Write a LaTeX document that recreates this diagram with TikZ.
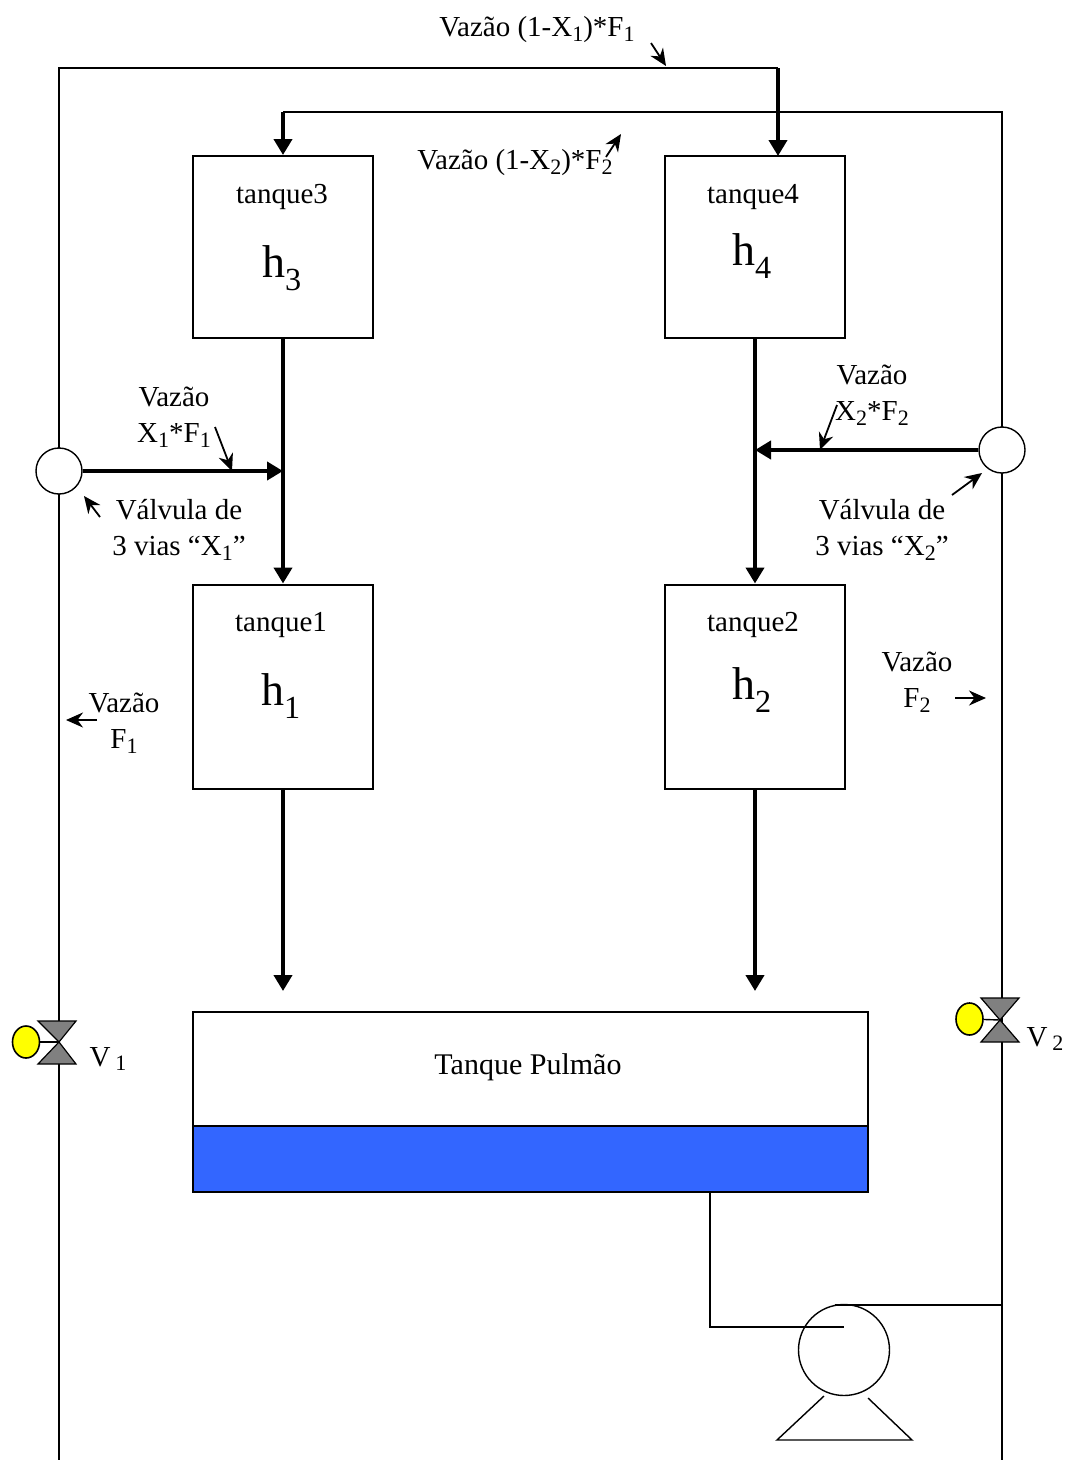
\documentclass[tikz,border=0pt]{standalone}
\usepackage{fontspec}
\setmainfont{Liberation Serif}
\usetikzlibrary{positioning}
\usetikzlibrary{calc}
\usetikzlibrary{arrows.meta}
\usetikzlibrary{shapes.geometric}
\definecolor{agua}{RGB}{51,102,255}
\definecolor{amarelo}{RGB}{255,255,0}
\definecolor{cinza}{RGB}{128,128,128}
\newcommand{\ind}[1]{\raisebox{-0.16em}{\fontsize{22}{22}\selectfont #1}}
\tikzset{
    texto/.style={inner sep=0pt, align=center, font=\fontsize{29}{36}\selectfont},
    altura/.style={inner sep=0pt, font=\fontsize{46}{50}\selectfont},
    tanque/.style={draw, line width=2pt, inner sep=0pt, minimum width=180, minimum height=#1},
    cano/.style={line width=2pt},
    canofino/.style={line width=1.4pt},
    grosso/.style={line width=4pt, -{Triangle[length=16pt,width=18pt]}},
    seta/.style={line width=1.8pt, -{Stealth[length=17pt,width=15pt]}},
    valvula/.style={circle, draw, fill=white, line width=1.4pt, inner sep=0pt, minimum size=46},
    atuador/.style={ellipse, draw, fill=amarelo, line width=1.6pt, inner sep=0pt, minimum width=27, minimum height=32},
    borboleta/.style={draw, fill=cinza, line width=1.2pt}
}
\begin{document}
\begin{tikzpicture}[x=1pt, y=-1pt]
    \useasboundingbox (0, 0) rectangle (1067, 1460);

    % pontos das linhas
    \coordinate (inicioE) at (59, 1460);
    \coordinate (cantoE) at (59, 68);
    \coordinate (cantoT4) at (778, 68);
    \coordinate (entradaT4) at (778, 156);
    \coordinate (inicioD) at (1002, 1460);
    \coordinate (cantoD) at (1002, 112);
    \coordinate (cantoT3) at (283, 112);
    \coordinate (juntaE) at (283, 471);
    \coordinate (juntaD) at (755, 450);
    \coordinate (quedaE) at (283, 991);
    \coordinate (quedaD) at (755, 991);

    % tanques
    \node[tanque=182] (tanque3) at (283, 247) {};
    \node[tanque=182] (tanque4) at (755, 247) {};
    \node[tanque=204] (tanque1) at (283, 686.5) {};
    \node[tanque=204] (tanque2) at (755, 686.5) {};
    \node[texto] (nome3) at (282, 197) {tanque3};
    \node[texto] (nome4) at (753, 197) {tanque4};
    \node[texto] (nome1) at (281, 625) {tanque1};
    \node[texto] (nome2) at (753, 625) {tanque2};
    \node[altura] (h3) at (282, 268) {h\textsubscript{3}};
    \node[altura] (h4) at (752, 256) {h\textsubscript{4}};
    \node[altura] (h1) at (281, 696) {h\textsubscript{1}};
    \node[altura] (h2) at (752, 690) {h\textsubscript{2}};

    % tanque pulmao
    \node[draw, line width=2pt, inner sep=0pt, minimum width=675, minimum height=180] (pulmao) at (530, 1102) {};
    \node[draw, fill=agua, line width=2pt, inner sep=0pt, minimum width=675, minimum height=66] (agua) at (530, 1159) {};
    \node[texto, font=\fontsize{30}{36}\selectfont] (nomepulmao) at (528, 1067) {Tanque Pulmão};

    % linhas principais
    \draw[cano] (inicioE) -- (cantoE) -- (cantoT4);
    \draw[cano] (inicioD) -- (cantoD) -- (cantoT3);
    \draw[grosso] (cantoT4) -- (entradaT4);
    \draw[grosso] (cantoT3) -- (tanque3.north);
    \draw[grosso] (tanque3.south) -- (tanque1.north);
    \draw[grosso] (tanque4.south) -- (tanque2.north);
    \draw[grosso] (tanque1.south) -- (quedaE);
    \draw[grosso] (tanque2.south) -- (quedaD);

    % valvulas de 3 vias
    \node[valvula] (via1) at (59, 471) {};
    \node[valvula] (via2) at (1002, 450) {};
    \draw[grosso] (via1) -- (juntaE);
    \draw[grosso] (via2) -- (juntaD);

    % valvulas V1 e V2
    \node[atuador] (atuador1) at (26, 1042) {};
    \coordinate (centroV1) at (59, 1042);
    \draw[canofino] (atuador1) -- (centroV1);
    \draw[borboleta] (38, 1021) -- (76, 1021) -- (centroV1) -- (76, 1064) -- (38, 1064) -- (centroV1) -- cycle;
    \node[atuador] (atuador2) at (969.5, 1019) {};
    \coordinate (centroV2) at (1000, 1020);
    \draw[canofino] (atuador2) -- (centroV2);
    \draw[borboleta] (981, 998) -- (1019, 998) -- (centroV2) -- (1019, 1042) -- (981, 1042) -- (centroV2) -- cycle;
    \node[texto] (V1) at (108, 1059) {V\,\ind{1}};
    \node[texto] (V2) at (1045, 1039) {V\,\ind{2}};

    % bomba
    \node[circle, draw, line width=1.4pt, inner sep=0pt, minimum size=91] (bomba) at (844, 1350) {};
    \coordinate (saidaP) at (710, 1192);
    \coordinate (entradaB) at (844, 1327);
    \coordinate (saidaB) at (835, 1305);
    \coordinate (recalque) at (1002, 1305);
    \draw[cano] (saidaP) |- (entradaB);
    \draw[canofino] (saidaB) -- (recalque);
    \coordinate (baseA) at (824, 1396);
    \coordinate (baseB) at (777, 1440);
    \coordinate (baseC) at (912, 1440);
    \coordinate (baseD) at (868, 1398);
    \draw[canofino] (baseA) -- (baseB) -- (baseC) -- (baseD);

    % rotulos
    \node[texto] (vazaoA) at (537, 30) {Vazão (1-X\ind{1})*F\ind{1}};
    \node[texto] (vazaoB) at (515, 163) {Vazão (1-X\ind{2})*F\ind{2}};
    \node[texto] (vazaoC) at (174, 417) {Vazão\\X\ind{1}*F\ind{1}};
    \node[texto] (vazaoD) at (872, 395) {Vazão\\X\ind{2}*F\ind{2}};
    \node[texto] (vazaoE) at (124, 723) {Vazão\\F\ind{1}};
    \node[texto] (vazaoF) at (917, 682) {Vazão\\F\ind{2}};
    \node[texto] (rotulo1) at (179, 530) {Válvula de\\3 vias “X\ind{1}”};
    \node[texto] (rotulo2) at (882, 530) {Válvula de\\3 vias “X\ind{2}”};

    % setas pequenas
    \coordinate (a1) at (651, 43);
    \coordinate (a2) at (666, 66);
    \coordinate (b1) at (606, 157);
    \coordinate (b2) at (621, 134);
    \coordinate (c1) at (215, 427);
    \coordinate (c2) at (232, 471);
    \coordinate (d1) at (837, 405);
    \coordinate (d2) at (820, 450);
    \coordinate (e1) at (97, 720);
    \coordinate (e2) at (66, 720);
    \coordinate (f1) at (955, 698);
    \coordinate (f2) at (986, 698);
    \coordinate (g1) at (100, 517);
    \coordinate (g2) at (84, 496);
    \coordinate (k1) at (952, 495);
    \coordinate (k2) at (982, 473);
    \draw[seta] (a1) -- (a2);
    \draw[seta] (b1) -- (b2);
    \draw[seta] (c1) -- (c2);
    \draw[seta] (d1) -- (d2);
    \draw[seta] (e1) -- (e2);
    \draw[seta] (f1) -- (f2);
    \draw[seta] (g1) -- (g2);
    \draw[seta] (k1) -- (k2);
\end{tikzpicture}
\end{document}
